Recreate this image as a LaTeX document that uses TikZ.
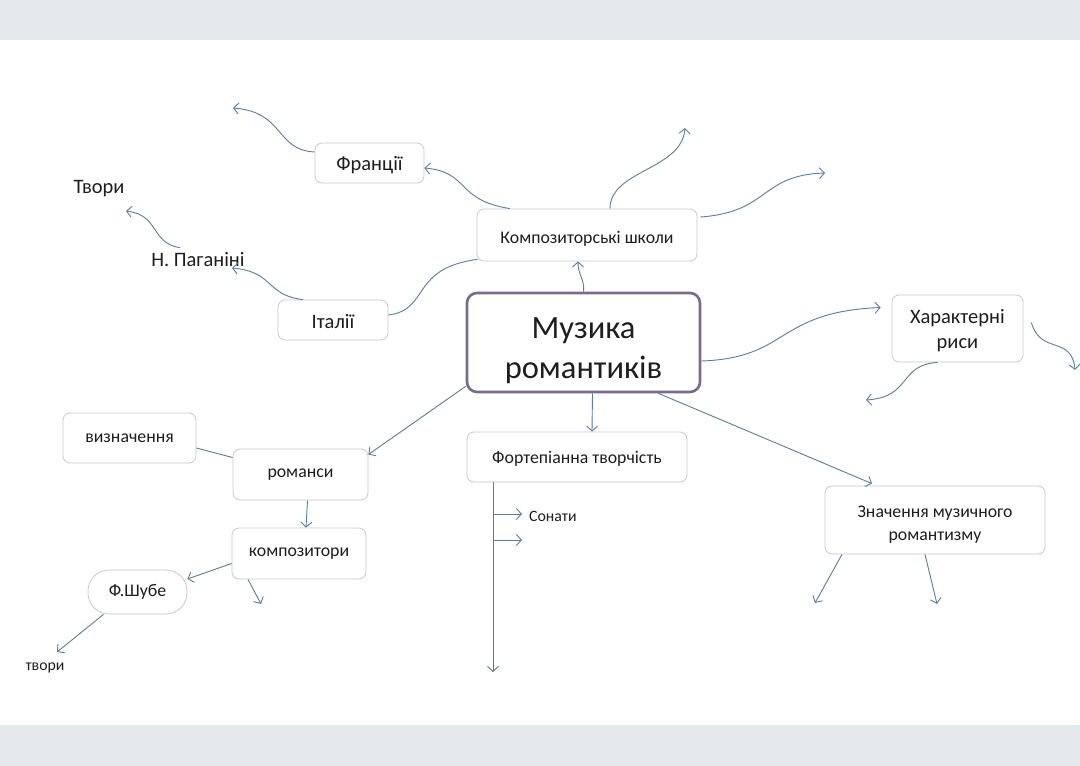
\documentclass[tikz,border=0pt]{standalone}
\usepackage{fontspec}
\setmainfont{Carlito}
\usetikzlibrary{arrows.meta}
\definecolor{band}{HTML}{E6E9EC}
\definecolor{lnk}{HTML}{5A7D9C}
\definecolor{bord}{HTML}{C9C9C9}
\definecolor{cbord}{HTML}{7A6A8C}
\definecolor{ink}{HTML}{1E1E1E}
\begin{document}
\begin{tikzpicture}[x=1pt,y=-1pt,
  box/.style={draw=bord, line width=0.8pt, rounded corners=7pt, fill=white, inner sep=0pt, align=center, text=ink},
  arr/.style={draw=lnk, line width=0.9pt, -{Straight Barb[length=5pt,width=11pt]}},
  ln/.style={draw=lnk, line width=0.9pt},
  plain/.style={inner sep=0pt, text=ink},
  fa/.style={font=\fontsize{17.8}{22}\selectfont},
  fb/.style={font=\fontsize{20.5}{25}\selectfont},
  fc/.style={font=\fontsize{15.8}{18}\selectfont}]
\useasboundingbox (0,0) rectangle (1080,766);
\fill[white] (0,0) rectangle (1080,766);
\fill[band] (0,0) rectangle (1080,40);
\fill[band] (0,725) rectangle (1080,766);

% nodes
\node[box, draw=cbord, line width=2.6pt, rounded corners=10pt, minimum width=233pt, minimum height=99pt,
  font=\fontsize{32.5}{40}\selectfont] (center) at (583.5,342.5) {\rule{0pt}{37pt}Музика\\романтиків};
\node[box, fa, minimum width=220pt, minimum height=52pt] (school) at (587,235) {\rule{0pt}{20pt}Композиторські школи};
\node[box, fb, minimum width=109pt, minimum height=40pt] (france) at (369.5,163) {\rule{0pt}{18pt}Франції};
\node[box, fb, minimum width=110pt, minimum height=40pt] (italy) at (333,320) {\rule{0pt}{18pt}Італії};
\node[plain, fb] (pag) at (198,260) {Н. Паганіні};
\node[plain, fb] (tv1) at (99,189) {Твори};
\node[box, fb, minimum width=131pt, minimum height=67pt] (char) at (957.5,328.5) {\rule{0pt}{18pt}Характерні\\риси};
\node[box, fa, minimum width=133pt, minimum height=50pt] (vyzn) at (129.5,438) {визначення};
\node[box, fa, minimum width=135pt, minimum height=51pt] (rom) at (300.5,474.5) {романси};
\node[box, fa, minimum width=134pt, minimum height=51pt] (komp) at (299,553.5) {композитори};
\node[box, fa, rounded corners=21pt, minimum width=99pt, minimum height=44pt] (shube) at (137.5,592) {Ф.Шубе};
\node[plain, fc] (tv2) at (45,668) {твори};
\node[box, fa, minimum width=220pt, minimum height=50pt] (fort) at (577,457) {\rule{0pt}{16pt}Фортепіанна творчість};
\node[plain, fc, anchor=west] (son) at (529,516) {Сонати};
\node[box, minimum width=220pt, minimum height=68pt, font=\fontsize{17.8}{23}\selectfont] (znach) at (935,520) {\rule{0pt}{21pt}Значення музичного\\романтизму};

% free ends
\coordinate (f1) at (233,108);
\coordinate (p1) at (232,268);
\coordinate (t1) at (126,211);
\coordinate (s1) at (685,128);
\coordinate (s2) at (825,173);
\coordinate (c1) at (866,400);
\coordinate (c2) at (1075,370);
\coordinate (k1) at (261,604);
\coordinate (sh1) at (57,652);
\coordinate (fv) at (493,672);
\coordinate (b1) at (493,514);
\coordinate (b1e) at (522,514);
\coordinate (b2) at (493,540);
\coordinate (b2e) at (522,540);
\coordinate (z1) at (815,603);
\coordinate (z2) at (937,604);

% connectors
\draw[arr] (center.north) .. controls (585,280) and (578,275) .. ([xshift=-9pt]school.south);
\draw[arr] ([xshift=-77pt]school.north) .. controls (455,200) and (470,172) .. ([yshift=-5pt]france.east);
\draw[arr] ([yshift=11pt]france.west) .. controls (275,150) and (285,112) .. (f1);
\draw[ln] ([yshift=5pt]italy.east) .. controls (430,310) and (410,268) .. ([xshift=1pt,yshift=2pt]school.south west);
\draw[arr] ([xshift=-30pt]italy.north) .. controls (265,295) and (275,272) .. (p1);
\draw[arr] ([xshift=-18pt,yshift=5pt]pag.north) .. controls (150,243) and (160,215) .. (t1);
\draw[arr] ([xshift=23pt]school.north) .. controls (610,170) and (682,170) .. (s1);
\draw[arr] ([xshift=3pt,yshift=18pt]school.east) .. controls (770,212) and (760,175) .. (s2);
\draw[arr] ([yshift=-18.5pt]center.east) .. controls (790,358) and (775,312) .. ([xshift=-11pt,yshift=21pt]char.west);
\draw[arr] ([xshift=-20pt]char.south) .. controls (898,365) and (912,397) .. (c1);
\draw[arr] ([xshift=8pt,yshift=6pt]char.east) .. controls (1040,355) and (1072,335) .. (c2);
\draw[arr] ([yshift=7pt]center.south west) -- ([yshift=20pt]rom.east);
\draw[ln] ([yshift=-10pt]vyzn.east) -- ([yshift=17pt]rom.west);
\draw[arr] ([xshift=7pt]rom.south) -- ([xshift=7pt]komp.north);
\draw[arr] ([yshift=-10pt]komp.west) -- ([yshift=13pt]shube.east);
\draw[arr] ([xshift=-51pt]komp.south) -- (k1);
\draw[arr] ([xshift=-34pt]shube.south) -- (sh1);
\draw[arr] ([xshift=9pt]center.south) -- ([xshift=15pt]fort.north);
\draw[arr] ([xshift=-84pt]fort.south) -- (fv);
\draw[arr] (b1) -- (b1e);
\draw[arr] (b2) -- (b2e);
\draw[arr] ([xshift=-43pt]center.south east) -- ([xshift=-63pt,yshift=2pt]znach.north);
\draw[arr] ([xshift=-93pt]znach.south) -- (z1);
\draw[arr] ([xshift=-10pt]znach.south) -- (z2);
\end{tikzpicture}
\end{document}
